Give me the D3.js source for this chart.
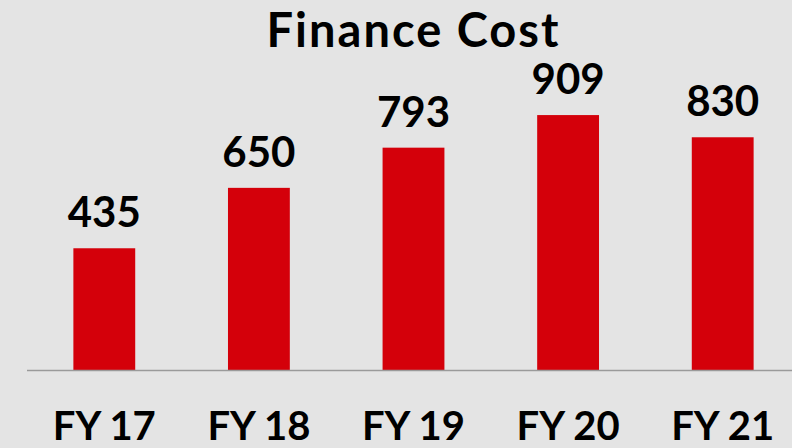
<!DOCTYPE html>
<html>
<head>
<meta charset="utf-8">
<script src="https://cdn.jsdelivr.net/npm/d3@7"></script>
<style>
    body { margin: 0; background: #e4e4e4; }
    svg { display: block; }
    text { font-family: Lato, "Open Sans", sans-serif; font-weight: 700; fill: #000; }
</style>
</head>
<body>
<svg id="chart"></svg>
<script>
'use strict';
const categories = ["FY 17", "FY 18", "FY 19", "FY 20", "FY 21"];
const values = [435, 650, 793, 909, 830];
const title = "Finance Cost";

(() => {
    const width = 792, height = 448;
    const baseY = 370.5;

    const svg = d3.select("#chart")
        .attr("width", width)
        .attr("height", height);

    svg.append("rect")
        .attr("width", width)
        .attr("height", height)
        .attr("fill", "#e4e4e4");

    const data = categories.map((c, i) => ({ name: c, value: values[i] }));

    // x band: bars ~62px wide on a ~155px step
    const xs = d3.scaleBand()
        .domain(categories)
        .range([27, 800])
        .paddingInner(0.6)
        .paddingOuter(0.3);

    const ys = d3.scaleLinear()
        .domain([0, 1000])
        .range([baseY, baseY - 281]);

    svg.selectAll(".bar")
        .data(data)
        .enter().append("rect")
            .attr("class", "bar")
            .attr("x", d => xs(d.name))
            .attr("y", d => ys(d.value))
            .attr("width", xs.bandwidth())
            .attr("height", d => ys(0) - ys(d.value))
            .attr("fill", "#d4000a");

    // baseline
    svg.append("line")
        .attr("x1", 27).attr("x2", width)
        .attr("y1", baseY).attr("y2", baseY)
        .attr("stroke", "#9a9a9a")
        .attr("stroke-width", 1.5);

    svg.selectAll(".value-label")
        .data(data)
        .enter().append("text")
            .attr("class", "value-label")
            .attr("x", d => xs(d.name) + xs.bandwidth() / 2)
            .attr("y", d => ys(d.value) - 21)
            .attr("text-anchor", "middle")
            .style("font-size", "42px")
            .text(d => d.value);

    svg.selectAll(".cat-label")
        .data(data)
        .enter().append("text")
            .attr("class", "cat-label")
            .attr("x", d => xs(d.name) + xs.bandwidth() / 2)
            .attr("y", 440)
            .attr("text-anchor", "middle")
            .style("font-size", "40px")
            .text(d => d.name);

    svg.append("text")
        .attr("x", 413.5)
        .attr("y", 46.5)
        .attr("text-anchor", "middle")
        .style("font-size", "47px")
        .style("letter-spacing", "2px")
        .text(title);
})();
</script>
</body>
</html>
